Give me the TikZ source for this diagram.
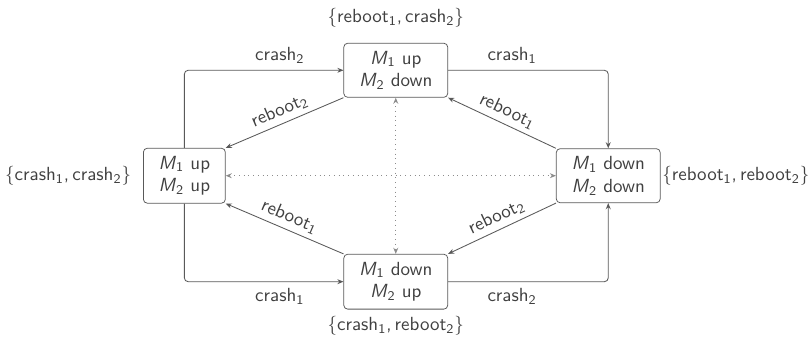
\documentclass[tikz,border=0pt]{standalone}
\usetikzlibrary{arrows.meta}

\newcommand{\mach}[1]{\textit{M}\textsubscript{#1}}
\newcommand{\ev}[2]{#1\textsubscript{#2}}

\tikzset{
  every node/.style={font=\sffamily, text=black!75},
  state/.style={draw=black!65, rounded corners=2pt, align=center, inner xsep=8pt, inner ysep=4pt},
  trans/.style={draw=black!65, line width=0.45pt, rounded corners=2pt, -{Stealth[length=3.2pt,width=2.6pt]}},
  link/.style={draw=black!45, dotted, line width=0.5pt, {Stealth[length=3.2pt,width=2.6pt]}-{Stealth[length=3.2pt,width=2.6pt]}},
  tag/.style={inner sep=2.4pt}
}

\begin{document}
\begin{tikzpicture}
\useasboundingbox (0,0) rectangle (15,-6.344);

% the four states
\node [state] (ud) at (7.32,-1.30) {\mach{1} up\\ \mach{2} down};
\node [state] (uu) at (3.41,-3.25) {\mach{1} up\\ \mach{2} up};
\node [state] (dd) at (11.25,-3.25) {\mach{1} down\\ \mach{2} down};
\node [state] (du) at (7.32,-5.21) {\mach{1} down\\ \mach{2} up};

% enabled events of each state
\node (setud) at (7.32,-0.33) {$\{$\ev{reboot}{1},\,\ev{crash}{2}$\}$};
\node (setuu) at (1.26,-3.25) {$\{$\ev{crash}{1},\,\ev{crash}{2}$\}$};
\node (setdd) at (13.61,-3.25) {$\{$\ev{reboot}{1},\,\ev{reboot}{2}$\}$};
\node (setdu) at (7.32,-6.03) {$\{$\ev{crash}{1},\,\ev{reboot}{2}$\}$};

% crashes go round the outside
\draw [trans] (uu.north) |- node [above, pos=0.8] {\ev{crash}{2}} (ud.west);
\draw [trans] (ud.east) -| node [above, pos=0.2] {\ev{crash}{1}} (dd.north);
\draw [trans] (uu.south) |- node [below, pos=0.8] {\ev{crash}{1}} (du.west);
\draw [trans] (du.east) -| node [below, pos=0.2] {\ev{crash}{2}} (dd.south);

% reboots go back inside
\draw [trans] (ud.south west) -- node [tag, above, sloped] {\ev{reboot}{2}} (uu.north east);
\draw [trans] (dd.north west) -- node [tag, above, sloped] {\ev{reboot}{1}} (ud.south east);
\draw [trans] (du.north west) -- node [tag, above, sloped] {\ev{reboot}{1}} (uu.south east);
\draw [trans] (dd.south west) -- node [tag, above, sloped] {\ev{reboot}{2}} (du.north east);

% symmetric pairs
\draw [link] (ud.south) -- (du.north);
\draw [link] (uu.east) -- (dd.west);
\end{tikzpicture}
\end{document}
